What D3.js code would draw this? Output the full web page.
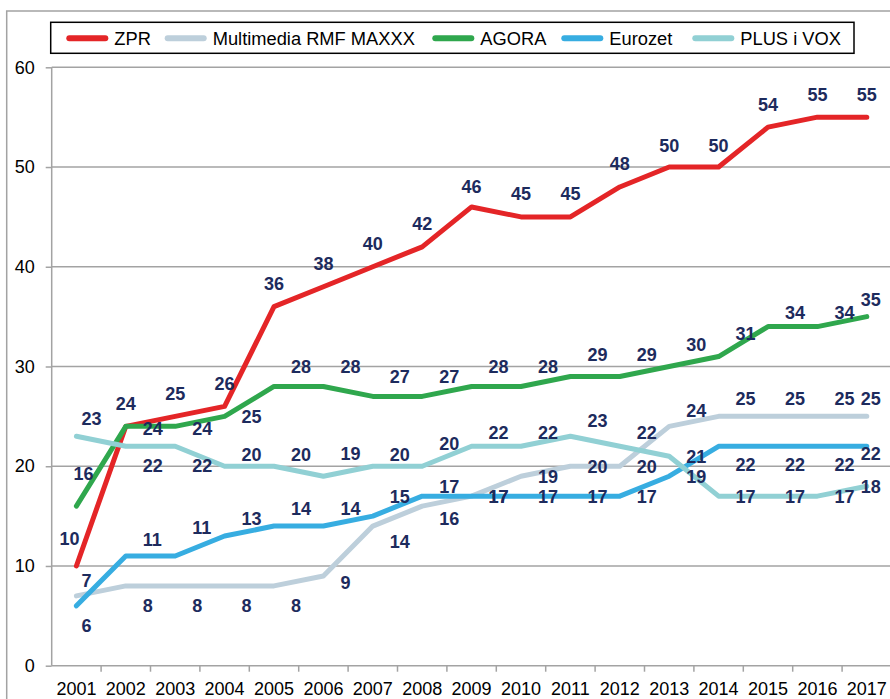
<!DOCTYPE html>
<html>
<head>
<meta charset="utf-8">
<script src="https://cdn.jsdelivr.net/npm/d3@7"></script>
<style>
body { margin: 0; background: #fff; }
svg { display: block; font-family: "Liberation Sans", Arial, sans-serif; }
</style>
</head>
<body>
<div id="chart"></div>
<script>
// data
var years = ["2001","2002","2003","2004","2005","2006","2007","2008","2009",
             "2010","2011","2012","2013","2014","2015","2016","2017"];
var seriesNames = ["ZPR", "Multimedia RMF MAXXX", "AGORA", "Eurozet", "PLUS i VOX"];
var zpr        = [10,24,25,26,36,38,40,42,46,45,45,48,50,50,54,55,55];
var multimedia = [7,8,8,8,8,9,14,16,17,19,20,20,24,25,25,25,25];
var agora      = [16,24,24,25,28,28,27,27,28,28,29,29,30,31,34,34,35];
var eurozet    = [6,11,11,13,14,14,15,17,17,17,17,17,19,22,22,22,22];
var plusVox    = [23,22,22,20,20,19,20,20,22,22,23,22,21,17,17,17,18];
var yTicks = [0,10,20,30,40,50,60];

// label placement (vertical offset of label centre from the point)
var zprDy        = [-27,-23,-23,-23,-23,-23,-23,-23,-20,-23,-23,-23,-22,-22,-23,-23,-23];
var multimediaDy = [-15,20,20,20,20,7,15,12,0,0,0,0,-16,-18,-18,-18,-18];
var agoraDy      = [-33,2,2,0,-20,-20,-20,-20,-20,-20,-22,-22,-22,-23,-14,-14,-17];
var eurozetDy    = [20,-16,-28,-18,-18,-18,-20,-10,0,0,0,0,0,18,18,18,7];
var plusVoxDy    = [-18,19,19,-12,-12,-23,-12,-23,-14,-14,-16,-14,0,0,0,0,0];

// legend swatch left edges
var legendX = [67.3, 165.7, 433.3, 562.3, 693.3];

var colors = ["#e42527", "#bdcfdb", "#2fa74d", "#37ade1", "#91d0d4"];
var labelColor = "#1d2b5d";

var series = [
  { name: seriesNames[0], values: zpr,        dy: zprDy,        firstDx: -7, centered: true },
  { name: seriesNames[1], values: multimedia, dy: multimediaDy, firstDx: 10 },
  { name: seriesNames[2], values: agora,      dy: agoraDy,      firstDx: 7 },
  { name: seriesNames[3], values: eurozet,    dy: eurozetDy,    firstDx: 10 },
  { name: seriesNames[4], values: plusVox,    dy: plusVoxDy,    firstDx: 15 }
];

var width = 890, height = 699;
var plotLeft = 51.7, plotTop = 67.3, plotBottom = 665.7, step = 49.4;

var svg = d3.select("#chart").append("svg")
  .attr("width", width)
  .attr("height", height);

// outer frame
svg.append("rect")
  .attr("x", 6.7).attr("y", 11)
  .attr("width", 1000).attr("height", 1000)
  .attr("fill", "none")
  .attr("stroke", "#a3a3a3")
  .attr("stroke-width", 1.5);

var x = d3.scaleBand().domain(years).range([plotLeft, plotLeft + step * years.length]);
var y = d3.scaleLinear().domain([0, 60]).range([plotBottom, plotTop]);

// gridlines
svg.append("g").selectAll("line")
  .data(yTicks.filter(function(d) { return d > 0; }))
  .enter().append("line")
  .attr("x1", plotLeft).attr("x2", width)
  .attr("y1", function(d) { return y(d); })
  .attr("y2", function(d) { return y(d); })
  .attr("stroke", "#a3a3a3")
  .attr("stroke-width", 1.5);

// y axis
var yAxis = svg.append("g")
  .attr("transform", "translate(" + plotLeft + ",0)")
  .call(d3.axisLeft(y).tickValues(yTicks).tickSize(6).tickPadding(11));
yAxis.selectAll("path, line").attr("stroke", "#a3a3a3").attr("stroke-width", 1.5);
yAxis.select(".domain").attr("d", "M0," + plotTop + "V" + plotBottom);
yAxis.selectAll("text")
  .attr("font-size", 18)
  .attr("font-family", "Liberation Sans, Arial, sans-serif")
  .attr("fill", "#000");

// x axis: ticks between categories
var xAxisG = svg.append("g").attr("transform", "translate(0," + plotBottom + ")");
xAxisG.append("line")
  .attr("x1", plotLeft).attr("x2", width)
  .attr("stroke", "#a3a3a3").attr("stroke-width", 1.5);
xAxisG.selectAll(".tick")
  .data(years)
  .enter().append("line")
  .attr("x1", function(d) { return x(d) + x.bandwidth(); })
  .attr("x2", function(d) { return x(d) + x.bandwidth(); })
  .attr("y1", 0).attr("y2", 6)
  .attr("stroke", "#a3a3a3").attr("stroke-width", 1.5);
xAxisG.selectAll("text")
  .data(years)
  .enter().append("text")
  .attr("x", function(d) { return x(d) + x.bandwidth() / 2; })
  .attr("y", 29)
  .attr("text-anchor", "middle")
  .attr("font-size", 18)
  .attr("fill", "#000")
  .text(function(d) { return d; });

// lines
var line = d3.line()
  .x(function(d, i) { return x(years[i]) + x.bandwidth() / 2; })
  .y(function(d) { return y(d); });

svg.append("g").selectAll("path")
  .data(series)
  .enter().append("path")
  .attr("d", function(s) { return line(s.values); })
  .attr("fill", "none")
  .attr("stroke", function(s, i) { return colors[i]; })
  .attr("stroke-width", 5)
  .attr("stroke-linejoin", "round")
  .attr("stroke-linecap", "round");

// data labels
series.forEach(function(s) {
  var last = s.values.length - 1;
  svg.append("g").selectAll("text")
    .data(s.values)
    .enter().append("text")
    .attr("x", function(d, i) {
      var cx = x(years[i]) + x.bandwidth() / 2;
      if (i == 0) return cx + s.firstDx;
      if (s.centered) return cx;
      if (i == last) return cx - 6;
      return cx + 17;
    })
    .attr("y", function(d, i) { return y(d) + s.dy[i] + 6.5; })
    .attr("text-anchor", function(d, i) {
      return (i == 0 || s.centered) ? "middle" : "start";
    })
    .attr("font-size", 18)
    .attr("font-weight", "bold")
    .attr("fill", labelColor)
    .text(function(d) { return d; });
});

// legend
var legend = svg.append("g");
legend.append("rect")
  .attr("x", 50.7).attr("y", 22.3)
  .attr("width", 803.3).attr("height", 31)
  .attr("fill", "#fff")
  .attr("stroke", "#000")
  .attr("stroke-width", 1.5);

series.forEach(function(s, i) {
  var lx = legendX[i];
  legend.append("line")
    .attr("x1", lx + 2).attr("x2", lx + 38)
    .attr("y1", 38.3).attr("y2", 38.3)
    .attr("stroke", colors[i])
    .attr("stroke-width", 6)
    .attr("stroke-linecap", "round");
  legend.append("text")
    .attr("x", lx + 47)
    .attr("y", 44.8)
    .attr("font-size", 18.3)
    .attr("fill", "#000")
    .text(s.name);
});
</script>
</body>
</html>
